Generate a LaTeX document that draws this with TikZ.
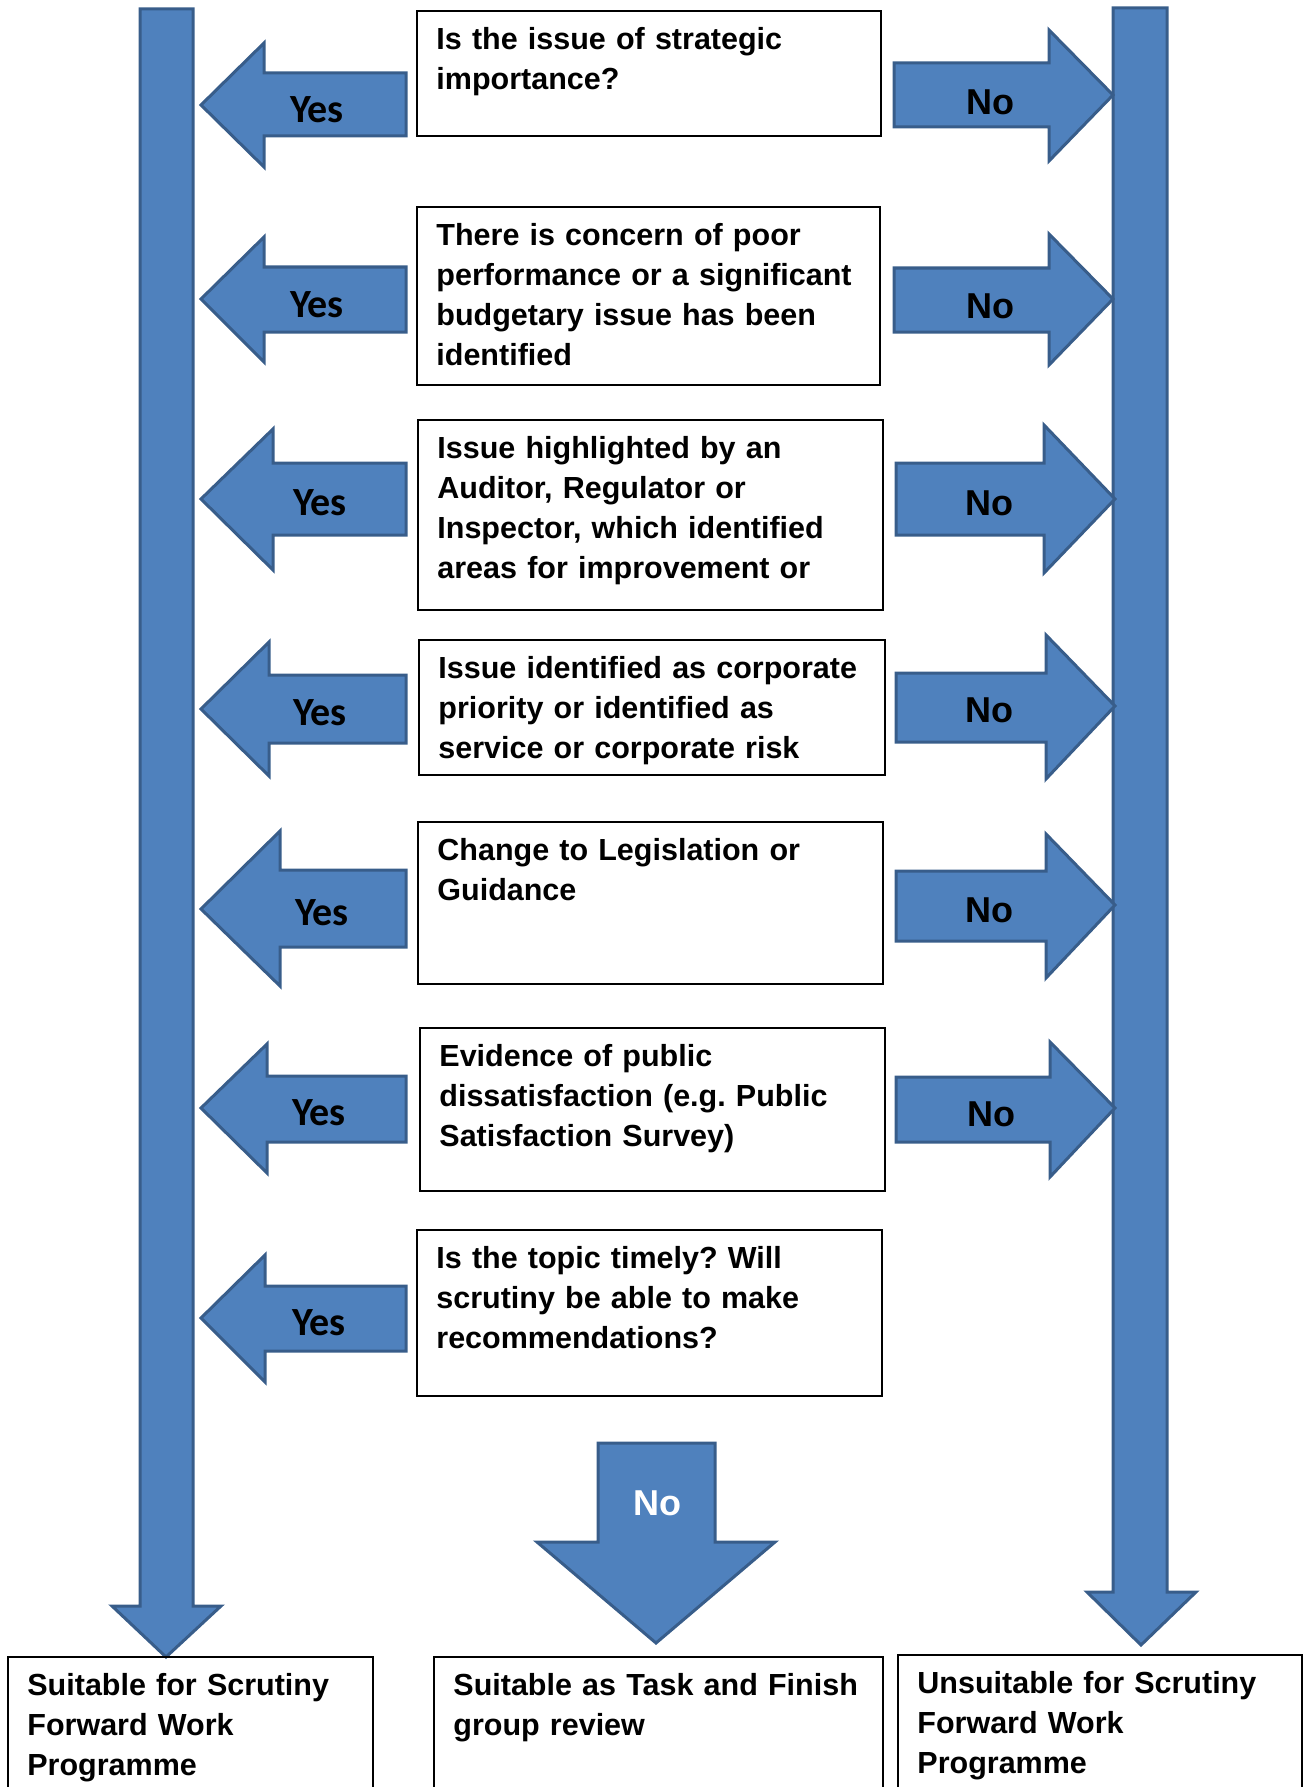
\documentclass[tikz,border=0pt]{standalone}
\usepackage{fontspec}
\setmainfont{Liberation Sans}
\newfontfamily\calibrifamily{Carlito}
\usepackage{tikz}
\definecolor{arrowfill}{HTML}{4F81BD}
\definecolor{arrowline}{HTML}{385D8A}
\newcommand{\questionfont}{\fontsize{15.25}{20}\selectfont\bfseries\frenchspacing}
\newcommand{\yesfont}{\fontsize{20}{22}\selectfont\calibrifamily\bfseries}
\newcommand{\nolabelfont}{\fontsize{18}{20}\selectfont\bfseries}
\tikzstyle{flowchart}=[x=0.5pt, y=-0.5pt, line join=miter]
\tikzstyle{question}=[draw, line width=1pt, inner sep=0, outer sep=0, anchor=north west]
% Text sits at the top left corner of its box.
\tikzstyle{questiontext}=[anchor=base west, inner sep=0, text width=226pt, align=left,
                          font=\questionfont, xshift=9.5pt, yshift=-19.25pt]
\tikzstyle{blockarrow}=[fill=arrowfill, draw=arrowline, line width=1.5pt]
\tikzstyle{yeslabel}=[anchor=base, inner sep=0, font=\yesfont]
\tikzstyle{nolabel}=[anchor=base, inner sep=0, font=\nolabelfont]

\begin{document}
\begin{tikzpicture}[flowchart]
        \clip (0,0) rectangle (1304,1787);
        % Long arrows down to the outcomes.
        \draw[blockarrow] (140,9) -- (193,9) -- (193,1606) -- (221,1606) -- (166,1657) -- (112,1606) -- (140,1606) -- cycle;
        \draw[blockarrow] (1113,8) -- (1167,8) -- (1167,1592) -- (1196,1592) -- (1141,1645) -- (1087,1592) -- (1113,1592) -- cycle;
        \draw[blockarrow] (598,1443) -- (715,1443) -- (715,1542) -- (775,1542) -- (656,1643) -- (537,1542) -- (598,1542) -- cycle;
        \node[nolabel, text=white] (nomid) at (657,1515) {No};
        % Questions.
        \node[question, minimum width=232pt, minimum height=62.5pt] (q1) at (417,11) {};
        \node[question, minimum width=231.5pt, minimum height=89pt] (q2) at (417,207) {};
        \node[question, minimum width=232.5pt, minimum height=95pt] (q3) at (418,420) {};
        \node[question, minimum width=233pt, minimum height=67.5pt] (q4) at (419,640) {};
        \node[question, minimum width=232.5pt, minimum height=81pt] (q5) at (418,822) {};
        \node[question, minimum width=232.5pt, minimum height=81.5pt] (q6) at (420,1028) {};
        \node[question, minimum width=232.5pt, minimum height=83pt] (q7) at (417,1230) {};
        \node[questiontext] (q1text) at (q1.north west) {Is the issue of strategic\\importance?};
        \node[questiontext] (q2text) at (q2.north west) {There is concern of poor\\performance or a significant\\budgetary issue has been\\identified};
        \node[questiontext] (q3text) at (q3.north west) {Issue highlighted by an\\Auditor, Regulator or\\Inspector, which identified\\areas for improvement or};
        \node[questiontext] (q4text) at (q4.north west) {Issue identified as corporate\\priority or identified as\\service or corporate risk};
        \node[questiontext] (q5text) at (q5.north west) {Change to Legislation or\\Guidance};
        \node[questiontext] (q6text) at (q6.north west) {Evidence of public\\dissatisfaction (e.g. Public\\Satisfaction Survey)};
        \node[questiontext] (q7text) at (q7.north west) {Is the topic timely? Will\\scrutiny be able to make\\recommendations?};
        % Outcomes.
        \node[question, minimum width=182.5pt, minimum height=100pt] (suitable) at (8,1657) {};
        \node[question, minimum width=224.5pt, minimum height=100pt] (taskfinish) at (434,1657) {};
        \node[question, minimum width=202pt, minimum height=100pt] (unsuitable) at (898,1655) {};
        \node[questiontext, yshift=0.25pt] (suitabletext) at (suitable.north west) {Suitable for Scrutiny\\Forward Work\\Programme};
        \node[questiontext, yshift=0.25pt] (taskfinishtext) at (taskfinish.north west) {Suitable as Task and Finish\\group review};
        \node[questiontext, yshift=0.25pt] (unsuitabletext) at (unsuitable.north west) {Unsuitable for Scrutiny\\Forward Work\\Programme};
        % Yes arrows.
        \draw[blockarrow] (201,105) -- (264,43) -- (264,73) -- (406,73) -- (406,136) -- (264,136) -- (264,167) -- cycle;
        \draw[blockarrow] (201,299) -- (264,237) -- (264,267) -- (406,267) -- (406,332) -- (264,332) -- (264,362) -- cycle;
        \draw[blockarrow] (201,499) -- (273,429) -- (273,463) -- (406,463) -- (406,535) -- (273,535) -- (273,570) -- cycle;
        \draw[blockarrow] (201,709) -- (269,642) -- (269,675) -- (406,675) -- (406,743) -- (269,743) -- (269,776) -- cycle;
        \draw[blockarrow] (201,909) -- (280,831) -- (280,870) -- (406,870) -- (406,947) -- (280,947) -- (280,986) -- cycle;
        \draw[blockarrow] (201,1108) -- (267,1044) -- (267,1076) -- (406,1076) -- (406,1142) -- (267,1142) -- (267,1173) -- cycle;
        \draw[blockarrow] (201,1318) -- (265,1255) -- (265,1286) -- (406,1286) -- (406,1351) -- (265,1351) -- (265,1382) -- cycle;
        \node[yeslabel] (yes1) at (317,123) {Yes};
        \node[yeslabel] (yes2) at (317,317) {Yes};
        \node[yeslabel] (yes3) at (320,515) {Yes};
        \node[yeslabel] (yes4) at (320,725) {Yes};
        \node[yeslabel] (yes5) at (322,925) {Yes};
        \node[yeslabel] (yes6) at (319,1125) {Yes};
        \node[yeslabel] (yes7) at (319,1335) {Yes};
        % No arrows.
        \draw[blockarrow] (894,63) -- (1049,63) -- (1049,30) -- (1113,95) -- (1049,161) -- (1049,127) -- (894,127) -- cycle;
        \draw[blockarrow] (894,268) -- (1049,268) -- (1049,234) -- (1113,299) -- (1049,365) -- (1049,332) -- (894,332) -- cycle;
        \draw[blockarrow] (896,463) -- (1044,463) -- (1044,425) -- (1115,499) -- (1044,573) -- (1044,535) -- (896,535) -- cycle;
        \draw[blockarrow] (896,673) -- (1046,673) -- (1046,635) -- (1115,706) -- (1046,779) -- (1046,742) -- (896,742) -- cycle;
        \draw[blockarrow] (896,871) -- (1046,871) -- (1046,834) -- (1115,905) -- (1046,978) -- (1046,941) -- (896,941) -- cycle;
        \draw[blockarrow] (896,1077) -- (1050,1077) -- (1050,1042) -- (1115,1108) -- (1050,1177) -- (1050,1142) -- (896,1142) -- cycle;
        \node[nolabel] (no1) at (990,115) {No};
        \node[nolabel] (no2) at (990,318) {No};
        \node[nolabel] (no3) at (989,515) {No};
        \node[nolabel] (no4) at (989,722) {No};
        \node[nolabel] (no5) at (989,922) {No};
        \node[nolabel] (no6) at (991,1126) {No};
    \end{tikzpicture}
\end{document}
